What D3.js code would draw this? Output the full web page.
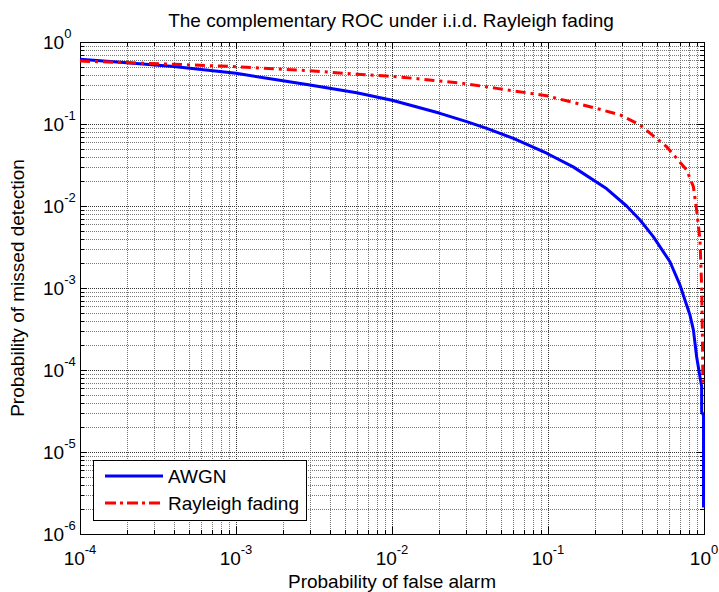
<!DOCTYPE html>
<html><head><meta charset="utf-8">
<script src="https://cdn.jsdelivr.net/npm/d3@7"></script>
<style>body{margin:0;background:#fff}svg{display:block}text{font-family:"Liberation Sans",Arial,sans-serif;fill:#000}</style>
</head><body>
<svg id="chart" width="719" height="592"></svg>
<script>
// ---- data ----
const pfaAWGN = [1e-4, 2e-4, 3.98e-4, 1e-3, 2e-3, 2.98e-3, 5.94e-3, 0.01, 0.0137, 0.0203, 0.0301, 0.0405, 0.060, 0.098, 0.145, 0.238, 0.319, 0.389, 0.473, 0.605, 0.701, 0.813, 0.855, 0.897, 0.942, 0.966, 0.966, 0.993, 0.993];
const pmAWGN  = [0.617, 0.560, 0.501, 0.415, 0.337, 0.299, 0.241, 0.195, 0.166, 0.135, 0.107, 0.0885, 0.0668, 0.044, 0.030, 0.0162, 0.0100, 0.00676, 0.00423, 0.00209, 0.00109, 4.68e-4, 3.09e-4, 1.45e-4, 8.3e-5, 6.3e-5, 3.1e-5, 2.8e-5, 2.1e-6];
const pfaRay  = [1e-4, 2e-4, 3.98e-4, 1e-3, 2.98e-3, 5.94e-3, 9.25e-3, 0.0137, 0.0286, 0.0469, 0.098, 0.205, 0.290, 0.389, 0.577, 0.774, 0.855, 0.897, 0.942, 0.966, 0.977, 0.984];
const pmRay   = [0.586, 0.560, 0.535, 0.50, 0.447, 0.404, 0.385, 0.361, 0.313, 0.272, 0.221, 0.155, 0.129, 0.0973, 0.0528, 0.0275, 0.0172, 0.0089, 0.0039, 0.00105, 2.5e-4, 6.3e-5];
const xMajor = [1e-4, 1e-3, 1e-2, 1e-1, 1];
const xExp   = ["-4", "-3", "-2", "-1", "0"];
const yMajor = [1e-6, 1e-5, 1e-4, 1e-3, 1e-2, 1e-1, 1];
const yExp   = ["-6", "-5", "-4", "-3", "-2", "-1", "0"];
const seriesNames = ["AWGN", "Rayleigh fading"];
const titleText = "The complementary ROC under i.i.d. Rayleigh fading";
const xLabel = "Probability of false alarm";
const yLabel = "Probability of missed detection";

// ---- layout ----
const L = 80, R = 704, T = 42, B = 534;
const svg = d3.select("#chart");
const x = d3.scaleLog().domain([1e-4, 1]).range([L, R]);
const y = d3.scaleLog().domain([1e-6, 1]).range([B, T]);

function minors(majors) {
  const out = [];
  for (let i = 0; i < majors.length - 1; i++)
    for (let k = 2; k <= 9; k++) out.push(majors[i] * k);
  return out;
}
const xMinor = minors(xMajor), yMinor = minors(yMajor);

// grid
const g = svg.append("g").attr("shape-rendering", "crispEdges");
g.selectAll(".vmin").data(xMinor).join("line")
  .attr("x1", d => Math.round(x(d)) + 0.5).attr("x2", d => Math.round(x(d)) + 0.5)
  .attr("y1", T).attr("y2", B).attr("stroke", "#777").attr("stroke-dasharray", "1,1");
g.selectAll(".hmin").data(yMinor).join("line")
  .attr("y1", d => Math.round(y(d)) + 0.5).attr("y2", d => Math.round(y(d)) + 0.5)
  .attr("x1", L).attr("x2", R).attr("stroke", "#777").attr("stroke-dasharray", "1,1");
g.selectAll(".vmaj").data(xMajor).join("line")
  .attr("x1", d => Math.round(x(d)) + 0.5).attr("x2", d => Math.round(x(d)) + 0.5)
  .attr("y1", T).attr("y2", B).attr("stroke", "#333").attr("stroke-dasharray", "1,1");
g.selectAll(".hmaj").data(yMajor).join("line")
  .attr("y1", d => Math.round(y(d)) + 0.5).attr("y2", d => Math.round(y(d)) + 0.5)
  .attr("x1", L).attr("x2", R).attr("stroke", "#333").attr("stroke-dasharray", "1,1");

// axes ticks (inside, all four sides)
function axisTicks(axisFn, scale, vals, size, tr) {
  const a = svg.append("g").attr("transform", tr).attr("shape-rendering", "crispEdges")
    .call(axisFn(scale).tickValues(vals).tickSize(size).tickFormat(""));
  a.select(".domain").remove();
  a.selectAll("line").attr("stroke", "#000");
}
axisTicks(d3.axisBottom, x, xMajor, -7, `translate(0,${B})`);
axisTicks(d3.axisBottom, x, xMinor, -4, `translate(0,${B})`);
axisTicks(d3.axisTop, x, xMajor, -7, `translate(0,${T})`);
axisTicks(d3.axisTop, x, xMinor, -4, `translate(0,${T})`);
axisTicks(d3.axisLeft, y, yMajor, -7, `translate(${L},0)`);
axisTicks(d3.axisLeft, y, yMinor, -4, `translate(${L},0)`);
axisTicks(d3.axisRight, y, yMajor, -7, `translate(${R},0)`);
axisTicks(d3.axisRight, y, yMinor, -4, `translate(${R},0)`);

// box
svg.append("rect").attr("x", L + 0.5).attr("y", T + 0.5).attr("width", R - L).attr("height", B - T)
  .attr("fill", "none").attr("stroke", "#000").attr("stroke-width", 1.5).attr("shape-rendering", "crispEdges");

// curves
const line = d3.line().x(d => x(d[0])).y(d => y(d[1]));
svg.append("path").datum(pfaAWGN.map((v, i) => [v, pmAWGN[i]])).attr("d", line)
  .attr("fill", "none").attr("stroke", "#0000ff").attr("stroke-width", 3).attr("stroke-linejoin", "round");
svg.append("path").datum(pfaRay.map((v, i) => [v, pmRay[i]])).attr("d", line)
  .attr("fill", "none").attr("stroke", "#ff0000").attr("stroke-width", 3)
  .attr("stroke-dasharray", "10,5,3,5");

// tick labels
xMajor.forEach((v, i) => {
  const t = svg.append("text").attr("x", x(v)).attr("y", 565).attr("text-anchor", "middle").attr("font-size", 19);
  t.append("tspan").text("10");
  t.append("tspan").attr("dy", -11).attr("font-size", 13).text(xExp[i]);
});
yMajor.forEach((v, i) => {
  const t = svg.append("text").attr("x", 43).attr("y", y(v) + 7).attr("font-size", 19);
  t.append("tspan").text("10");
  t.append("tspan").attr("dy", -11).attr("font-size", 13).text(yExp[i]);
});

// title & labels
svg.append("text").attr("x", 391).attr("y", 27).attr("text-anchor", "middle").attr("font-size", 19).text(titleText);
svg.append("text").attr("x", 392).attr("y", 588).attr("text-anchor", "middle").attr("font-size", 19).text(xLabel);
svg.append("text").attr("transform", `translate(24,${(T + B) / 2}) rotate(-90)`).attr("text-anchor", "middle").attr("font-size", 19).text(yLabel);

// legend
const lg = svg.append("g");
lg.append("rect").attr("x", 93.5).attr("y", 460.5).attr("width", 213).attr("height", 60)
  .attr("fill", "#fff").attr("stroke", "#000").attr("shape-rendering", "crispEdges");
const legColors = ["#0000ff", "#ff0000"], legDash = [null, "11,4,3,4"];
seriesNames.forEach((n, i) => {
  const yy = 476 + i * 27;
  lg.append("line").attr("x1", 105).attr("x2", 163).attr("y1", yy).attr("y2", yy)
    .attr("stroke", legColors[i]).attr("stroke-width", 3).attr("stroke-dasharray", legDash[i]);
  lg.append("text").attr("x", 168).attr("y", yy + 7).attr("font-size", 19).text(n);
});
</script>
</body></html>
